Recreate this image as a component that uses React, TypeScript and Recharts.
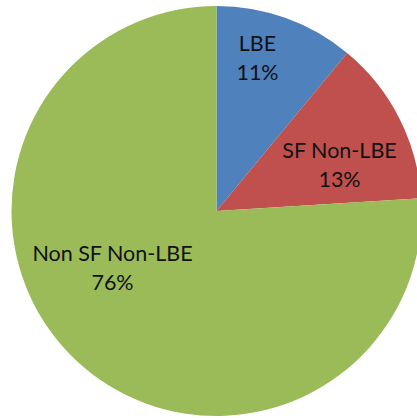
import { PieChart, Pie, Cell } from 'recharts'

const categories = ['LBE', 'SF Non-LBE', 'Non SF Non-LBE']
const shares = [11, 13, 76]
const colors = ['#4F81BD', '#C0504D', '#9BBB59']

// label centres relative to the pie centre (Excel "best fit" placement)
const labelOffsets = [
  [41, -153],
  [123, -46],
  [-104, 57],
]

const data = categories.map((name, i) => ({ name, value: shares[i] }))

function SliceLabel({ cx, cy, index }: any) {
  const [dx, dy] = labelOffsets[index]
  const x = cx + dx
  const y = cy + dy
  return (
    <text
      x={x}
      y={y}
      textAnchor="middle"
      fill="#111"
      fontFamily="Lato, 'Open Sans', sans-serif"
      fontSize={21.5}
    >
      <tspan x={x} dy={-7}>{categories[index]}</tspan>
      <tspan x={x} dy={29}>{shares[index]}%</tspan>
    </text>
  )
}

export default function App() {
  return (
    <div style={{ position: 'fixed', left: 0, top: 0, width: 417, height: 418, background: '#fff' }}>
      <PieChart width={417} height={418} margin={{ top: 0, right: 0, bottom: 0, left: 0 }}>
        <Pie
          data={data}
          dataKey="value"
          cx={216.5}
          cy={211}
          outerRadius={205}
          startAngle={90}
          endAngle={-270}
          stroke="none"
          labelLine={false}
          label={SliceLabel}
          isAnimationActive={false}
        >
          {data.map((d, i) => (
            <Cell key={d.name} fill={colors[i]} />
          ))}
        </Pie>
      </PieChart>
    </div>
  )
}
